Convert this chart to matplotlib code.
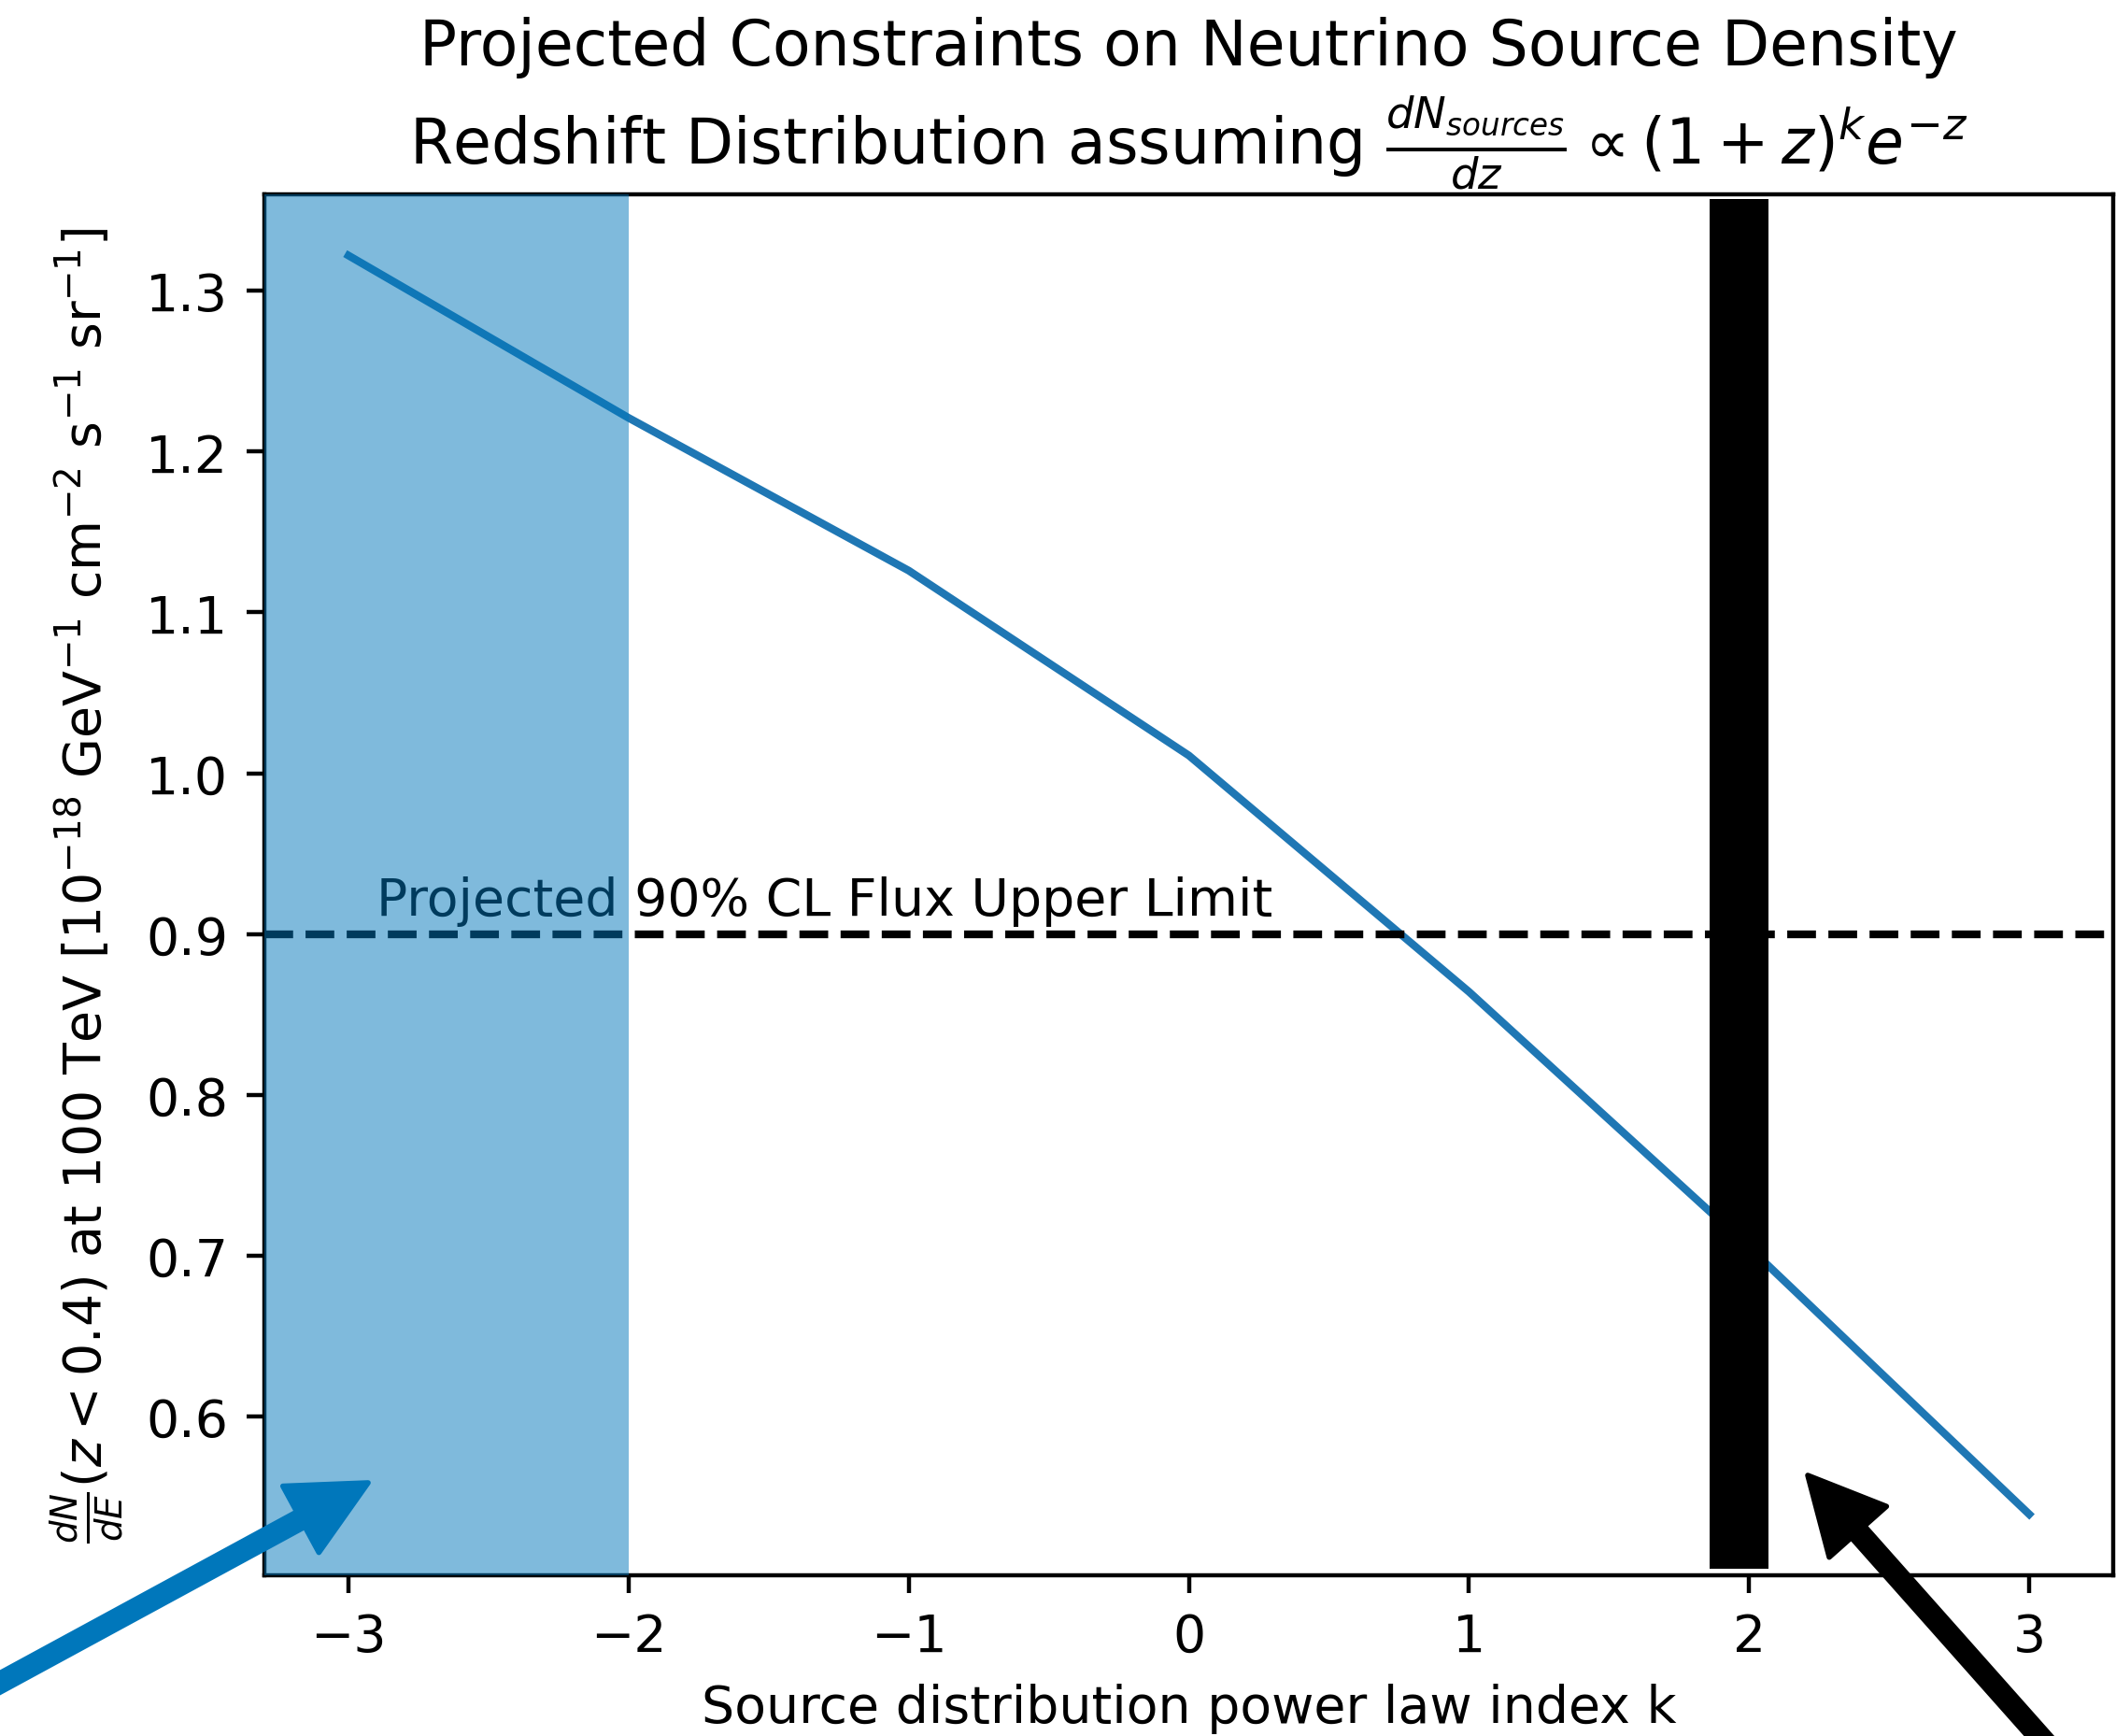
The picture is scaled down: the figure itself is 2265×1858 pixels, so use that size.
import matplotlib
matplotlib.use("Agg")
import matplotlib.pyplot as plt

# source power law index k and projected flux at 100 TeV
k_values = [-3, -2, -1, 0, 1, 2, 3]
flux = [1.322, 1.221, 1.126, 1.011, 0.864, 0.705, 0.539]

upper_limit = 0.9  # projected 90% CL flux upper limit
excluded_k = [-3.3, -2.0]  # shaded region
marked_k = [1.86, 2.07]  # scribbled band
yticks = [0.6, 0.7, 0.8, 0.9, 1.0, 1.1, 1.2, 1.3]

dpi = 399
fig = plt.figure(figsize=(2265 / dpi, 1859 / dpi), dpi=dpi)
ax = fig.add_axes([0.125, 0.0925, 0.8737, 0.795])

ax.plot(k_values, flux, color="C0", lw=1.5)
ax.axhline(upper_limit, color="k", ls="--", lw=1.5)
ax.text(-2.9, upper_limit + 0.012, "Projected 90% CL Flux Upper Limit", fontsize=10)

# shaded region on top of everything in the axes
ax.axvspan(excluded_k[0], excluded_k[1], color="#0077bb", alpha=0.5, lw=0, zorder=5)
# black band at k=2
ax.axvspan(marked_k[0], marked_k[1], ymin=0.005, ymax=0.997, facecolor="black",
           lw=0, zorder=6)

ax.set_xlim(-3.3, 3.3)
ax.set_ylim(0.501, 1.36)
ax.set_yticks(yticks)
ax.set_xlabel("Source distribution power law index k")
ax.set_ylabel(r"$\frac{dN}{dE}(z < 0.4)$ at 100 TeV [$10^{-18}$ GeV$^{-1}$ cm$^{-2}$ s$^{-1}$ sr$^{-1}$]")
ax.set_title("Projected Constraints on Neutrino Source Density\n"
             r"Redshift Distribution assuming $\frac{dN_{sources}}{dz} \propto (1+z)^k e^{-z}$")

# arrows drawn over the figure
blue = ax.annotate("", xy=(0.174, 0.1458), xytext=(-0.044, 0.0016),
                   xycoords="figure fraction", textcoords="figure fraction",
                   arrowprops=dict(arrowstyle="simple,head_length=14.8,head_width=14.6,tail_width=3.3",
                                   mutation_scale=1, color="#0077bb", shrinkA=0, shrinkB=0),
                   annotation_clip=False)
blue.arrow_patch.set_clip_on(False)
blue.arrow_patch.set_zorder(10)
black = ax.annotate("", xy=(0.8543, 0.1501), xytext=(0.9978, -0.0468),
                    xycoords="figure fraction", textcoords="figure fraction",
                    arrowprops=dict(arrowstyle="simple,head_length=14.6,head_width=14.8,tail_width=3.4",
                                    mutation_scale=1, color="black", shrinkA=0, shrinkB=0),
                    annotation_clip=False)
black.arrow_patch.set_clip_on(False)
black.arrow_patch.set_zorder(10)

fig.savefig("out.png", dpi=dpi)
